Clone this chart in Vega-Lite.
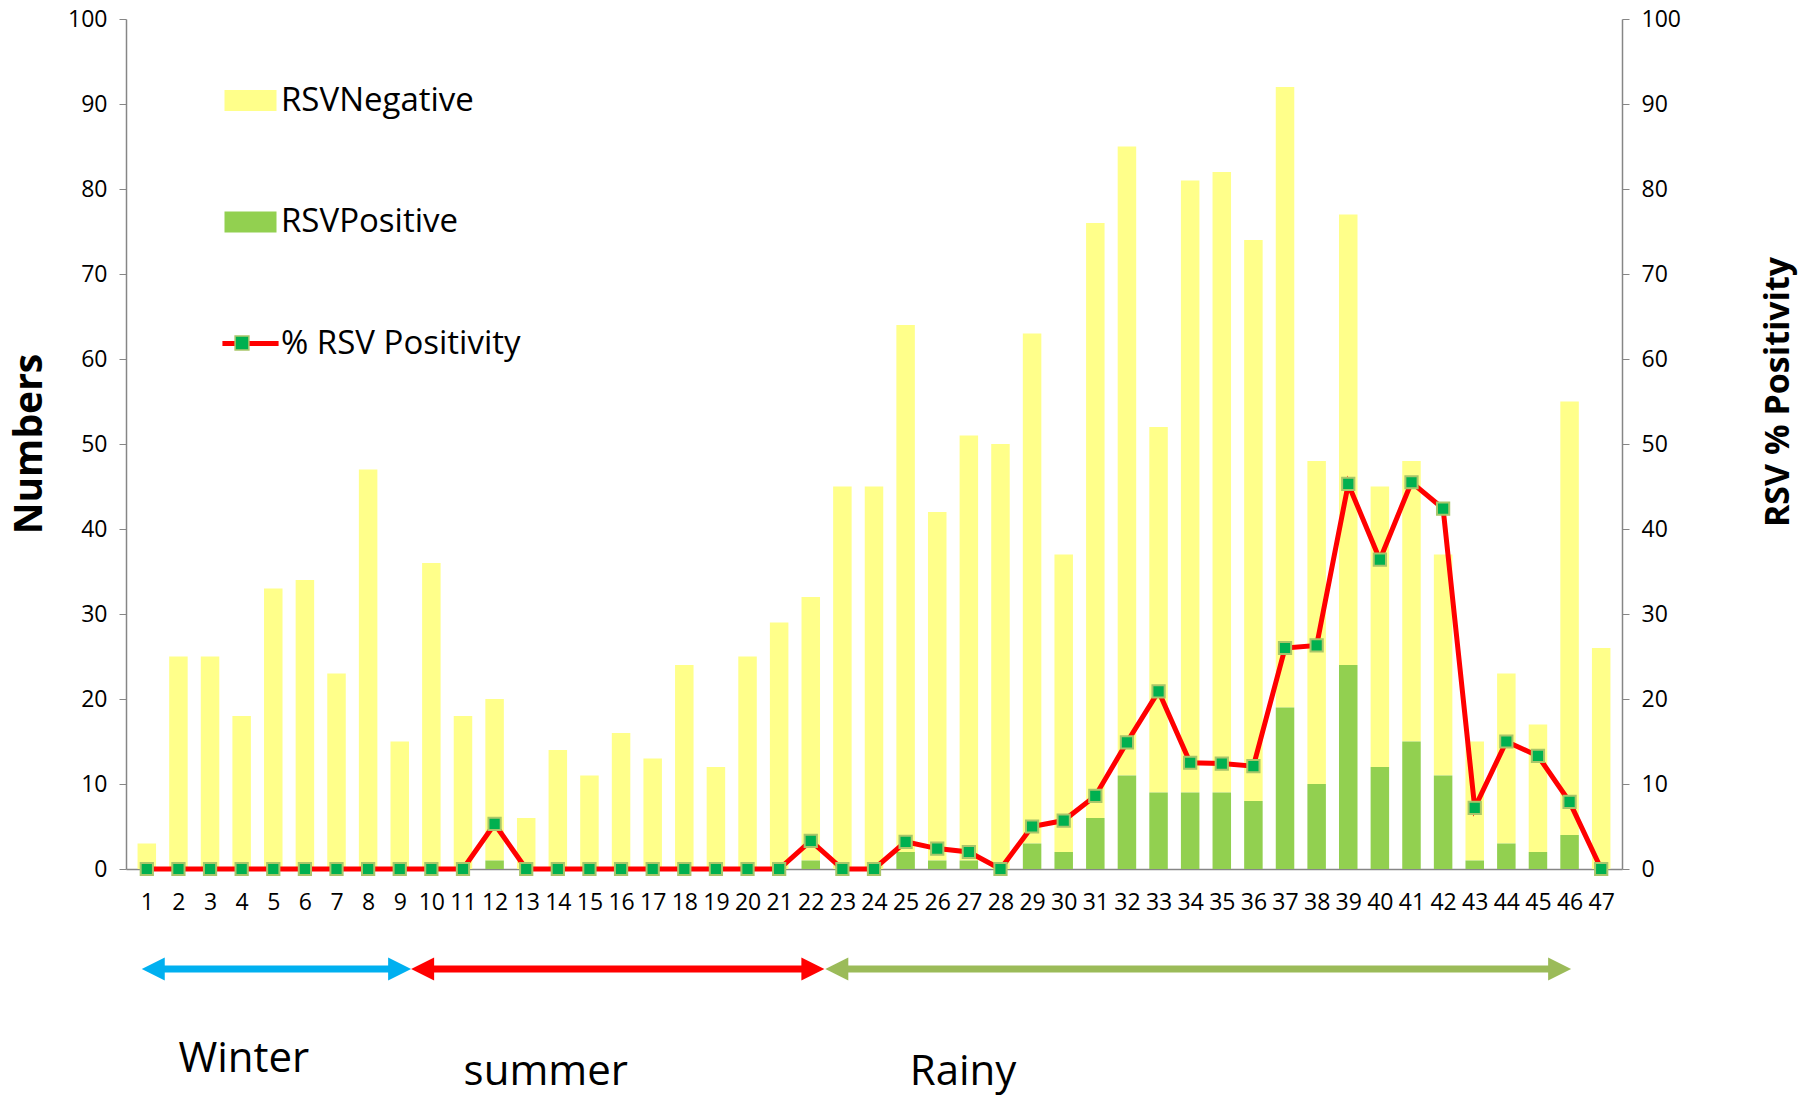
{
  "$schema": "https://vega.github.io/schema/vega-lite/v6.json",
  "width": 1496,
  "height": 850,
  "autosize": "none",
  "padding": {"left": 126, "top": 19, "right": 195, "bottom": 229},
  "background": "white",
  "config": {
    "view": {"stroke": null},
    "font": "Open Sans",
    "axis": {"grid": false, "domainColor": "#868686", "tickColor": "#868686", "domainWidth": 1.5, "labelFont": "Open Sans", "labelColor": "#000000", "labelFontSize": 23, "labelFlush": false, "labelOverlap": false, "titleFont": "Open Sans", "titleColor": "#000000", "titleFontWeight": "bold"},
    "axisX": {"labelOverlap": false, "labelSeparation": 0},
    "axisQuantitative": {"labelOverlap": false}
  },
  "datasets": {
    "weeks": [
      {"week": 1, "RSVPositive": 0, "RSVNegative": 3, "pct": 0},
      {"week": 2, "RSVPositive": 0, "RSVNegative": 25, "pct": 0},
      {"week": 3, "RSVPositive": 0, "RSVNegative": 25, "pct": 0},
      {"week": 4, "RSVPositive": 0, "RSVNegative": 18, "pct": 0},
      {"week": 5, "RSVPositive": 0, "RSVNegative": 33, "pct": 0},
      {"week": 6, "RSVPositive": 0, "RSVNegative": 34, "pct": 0},
      {"week": 7, "RSVPositive": 0, "RSVNegative": 23, "pct": 0},
      {"week": 8, "RSVPositive": 0, "RSVNegative": 47, "pct": 0},
      {"week": 9, "RSVPositive": 0, "RSVNegative": 15, "pct": 0},
      {"week": 10, "RSVPositive": 0, "RSVNegative": 36, "pct": 0},
      {"week": 11, "RSVPositive": 0, "RSVNegative": 18, "pct": 0},
      {"week": 12, "RSVPositive": 1, "RSVNegative": 19, "pct": 5.3},
      {"week": 13, "RSVPositive": 0, "RSVNegative": 6, "pct": 0},
      {"week": 14, "RSVPositive": 0, "RSVNegative": 14, "pct": 0},
      {"week": 15, "RSVPositive": 0, "RSVNegative": 11, "pct": 0},
      {"week": 16, "RSVPositive": 0, "RSVNegative": 16, "pct": 0},
      {"week": 17, "RSVPositive": 0, "RSVNegative": 13, "pct": 0},
      {"week": 18, "RSVPositive": 0, "RSVNegative": 24, "pct": 0},
      {"week": 19, "RSVPositive": 0, "RSVNegative": 12, "pct": 0},
      {"week": 20, "RSVPositive": 0, "RSVNegative": 25, "pct": 0},
      {"week": 21, "RSVPositive": 0, "RSVNegative": 29, "pct": 0},
      {"week": 22, "RSVPositive": 1, "RSVNegative": 31, "pct": 3.3},
      {"week": 23, "RSVPositive": 0, "RSVNegative": 45, "pct": 0},
      {"week": 24, "RSVPositive": 0, "RSVNegative": 45, "pct": 0},
      {"week": 25, "RSVPositive": 2, "RSVNegative": 62, "pct": 3.2},
      {"week": 26, "RSVPositive": 1, "RSVNegative": 41, "pct": 2.4},
      {"week": 27, "RSVPositive": 1, "RSVNegative": 50, "pct": 2.0},
      {"week": 28, "RSVPositive": 0, "RSVNegative": 50, "pct": 0},
      {"week": 29, "RSVPositive": 3, "RSVNegative": 60, "pct": 5.0},
      {"week": 30, "RSVPositive": 2, "RSVNegative": 35, "pct": 5.7},
      {"week": 31, "RSVPositive": 6, "RSVNegative": 70, "pct": 8.6},
      {"week": 32, "RSVPositive": 11, "RSVNegative": 74, "pct": 14.9},
      {"week": 33, "RSVPositive": 9, "RSVNegative": 43, "pct": 20.9},
      {"week": 34, "RSVPositive": 9, "RSVNegative": 72, "pct": 12.5},
      {"week": 35, "RSVPositive": 9, "RSVNegative": 73, "pct": 12.4},
      {"week": 36, "RSVPositive": 8, "RSVNegative": 66, "pct": 12.1},
      {"week": 37, "RSVPositive": 19, "RSVNegative": 73, "pct": 26.0},
      {"week": 38, "RSVPositive": 10, "RSVNegative": 38, "pct": 26.3},
      {"week": 39, "RSVPositive": 24, "RSVNegative": 53, "pct": 45.3},
      {"week": 40, "RSVPositive": 12, "RSVNegative": 33, "pct": 36.4},
      {"week": 41, "RSVPositive": 15, "RSVNegative": 33, "pct": 45.5},
      {"week": 42, "RSVPositive": 11, "RSVNegative": 26, "pct": 42.4},
      {"week": 43, "RSVPositive": 1, "RSVNegative": 14, "pct": 7.2},
      {"week": 44, "RSVPositive": 3, "RSVNegative": 20, "pct": 15.0},
      {"week": 45, "RSVPositive": 2, "RSVNegative": 15, "pct": 13.3},
      {"week": 46, "RSVPositive": 4, "RSVNegative": 51, "pct": 7.9},
      {"week": 47, "RSVPositive": 0, "RSVNegative": 26, "pct": 0}
    ],
    "seasons": [
      {"season": "Winter", "from": 0.84, "to": 9.36, "lx": 2.0},
      {"season": "summer", "from": 9.36, "to": 22.43, "lx": 11.02},
      {"season": "Rainy", "from": 22.46, "to": 46.05, "lx": 25.13}
    ]
  },
  "layer": [
    {
      "data": {"name": "weeks"},
      "transform": [{"fold": ["RSVNegative", "RSVPositive"], "as": ["series", "count"]}],
      "mark": {"type": "bar", "width": 18.5},
      "encoding": {
        "x": {"field": "week", "type": "quantitative", "title": null,
              "scale": {"domain": [0.5, 47.5], "nice": false, "zero": false},
              "axis": {"values": [1,2,3,4,5,6,7,8,9,10,11,12,13,14,15,16,17,18,19,20,21,22,23,24,25,26,27,28,29,30,31,32,33,34,35,36,37,38,39,40,41,42,43,44,45,46,47], "format": "d", "ticks": false, "labelPadding": 22, "labelOverlap": false, "labelBound": false, "labelSeparation": 0, "title": null}},
        "y": {"field": "count", "type": "quantitative", "stack": "zero",
              "scale": {"domain": [0, 100], "nice": false},
              "axis": {"orient": "left", "values": [0,10,20,30,40,50,60,70,80,90,100], "tickSize": 7, "labelPadding": 12,
                       "title": "Numbers", "titleFontSize": 39, "titleAngle": 270, "titleBaseline": "alphabetic", "titleAlign": "center", "titleX": -85, "titleY": 424.5}},
        "color": {"field": "series", "type": "nominal",
                  "scale": {"domain": ["RSVNegative", "RSVPositive", "% RSV Positivity"], "range": ["#FFFF8A", "#92D050", "#FF0000"]},
                  "legend": {"orient": "none", "legendX": 108, "legendY": 65, "direction": "vertical", "title": null, "padding": 0,
                             "labelFont": "Open Sans", "labelFontSize": 33, "labelColor": "#000000", "labelOffset": 14, "labelLimit": 500,
                             "rowPadding": 87.5, "symbolType": "M-1,-0.4H1V0.4H-1Z", "symbolSize": 2704,
                             "encode": {"symbols": {"update": {
                               "shape": {"signal": "datum.value === '% RSV Positivity' ? 'M-1.08,0H1.08' : 'M-1,-0.4H1V0.4H-1Z'"},
                               "fill": {"signal": "datum.value === '% RSV Positivity' ? 'transparent' : scale('color', datum.value)"},
                               "stroke": {"signal": "datum.value === '% RSV Positivity' ? '#FF0000' : 'transparent'"},
                               "strokeWidth": {"signal": "datum.value === '% RSV Positivity' ? 5 : 0"},
                               "opacity": {"value": 1}
                             }}}}},
        "order": {"field": "series", "sort": "descending"}
      }
    },
    {
      "data": {"name": "weeks"},
      "mark": {"type": "line", "strokeWidth": 5},
      "encoding": {
        "x": {"field": "week", "type": "quantitative", "title": null, "scale": {"domain": [0.5, 47.5], "nice": false, "zero": false},
              "axis": {"values": [1,2,3,4,5,6,7,8,9,10,11,12,13,14,15,16,17,18,19,20,21,22,23,24,25,26,27,28,29,30,31,32,33,34,35,36,37,38,39,40,41,42,43,44,45,46,47], "format": "d", "ticks": false, "labelPadding": 22, "labelOverlap": false, "labelBound": false, "labelSeparation": 0, "title": null}},
        "y": {"field": "pct", "type": "quantitative",
              "scale": {"domain": [0, 100], "nice": false},
              "axis": {"orient": "right", "values": [0,10,20,30,40,50,60,70,80,90,100], "tickSize": 7, "labelPadding": 12,
                       "title": "RSV  % Positivity", "titleFontSize": 34, "titleAngle": 270, "titleBaseline": "alphabetic", "titleAlign": "center", "titleX": 166, "titleY": 372.5}},
        "color": {"datum": "% RSV Positivity"}
      }
    },
    {
      "data": {"name": "weeks"},
      "mark": {"type": "point", "filled": true, "size": 150, "fill": "#00B050", "stroke": "#A9C66A", "strokeWidth": 2, "opacity": 1},
      "encoding": {
        "x": {"field": "week", "type": "quantitative", "title": null, "scale": {"domain": [0.5, 47.5], "nice": false, "zero": false},
              "axis": {"values": [1,2,3,4,5,6,7,8,9,10,11,12,13,14,15,16,17,18,19,20,21,22,23,24,25,26,27,28,29,30,31,32,33,34,35,36,37,38,39,40,41,42,43,44,45,46,47], "format": "d", "ticks": false, "labelPadding": 22, "labelOverlap": false, "labelBound": false, "labelSeparation": 0, "title": null}},
        "y": {"field": "pct", "type": "quantitative", "scale": {"domain": [0, 100], "nice": false}, "axis": null},
        "shape": {"datum": "% RSV Positivity", "type": "nominal",
                  "scale": {"domain": ["% RSV Positivity"], "range": ["square"]},
                  "legend": {"orient": "none", "legendX": 108, "legendY": 316, "title": null, "padding": 0,
                             "labelExpr": "''", "labelFontSize": 1, "labelOffset": 0, "symbolSize": 190,
                             "encode": {"symbols": {"update": {
                               "fill": {"value": "#00B050"},
                               "stroke": {"value": "#A9C66A"},
                               "strokeWidth": {"value": 2},
                               "opacity": {"value": 1}
                             }}}}}
      }
    },
    {
      "data": {"name": "seasons"},
      "mark": {"type": "rule", "strokeWidth": 7, "xOffset": 10, "x2Offset": -10},
      "encoding": {
        "x": {"field": "from", "type": "quantitative", "title": null, "scale": {"domain": [0.5, 47.5], "nice": false, "zero": false},
              "axis": {"values": [1,2,3,4,5,6,7,8,9,10,11,12,13,14,15,16,17,18,19,20,21,22,23,24,25,26,27,28,29,30,31,32,33,34,35,36,37,38,39,40,41,42,43,44,45,46,47], "format": "d", "ticks": false, "labelPadding": 22, "labelOverlap": false, "labelBound": false, "labelSeparation": 0, "title": null}},
        "x2": {"field": "to"},
        "y": {"datum": -11.76, "type": "quantitative", "scale": {"domain": [0, 100], "nice": false}, "axis": null},
        "stroke": {"field": "season", "type": "nominal", "scale": {"domain": ["Winter", "summer", "Rainy"], "range": ["#00B0F0", "#FF0000", "#9BBB59"]}, "legend": null}
      }
    },
    {
      "data": {"name": "seasons"},
      "transform": [{"fold": ["from", "to"], "as": ["end", "pos"]}],
      "mark": {"type": "point", "filled": true, "size": 529, "opacity": 1, "strokeWidth": 0},
      "encoding": {
        "x": {"field": "pos", "type": "quantitative", "title": null, "scale": {"domain": [0.5, 47.5], "nice": false, "zero": false},
              "axis": {"values": [1,2,3,4,5,6,7,8,9,10,11,12,13,14,15,16,17,18,19,20,21,22,23,24,25,26,27,28,29,30,31,32,33,34,35,36,37,38,39,40,41,42,43,44,45,46,47], "format": "d", "ticks": false, "labelPadding": 22, "labelOverlap": false, "labelBound": false, "labelSeparation": 0, "title": null}},
        "y": {"datum": -11.76, "type": "quantitative", "scale": {"domain": [0, 100], "nice": false}, "axis": null},
        "shape": {"field": "end", "type": "nominal", "scale": {"domain": ["from", "to"], "range": ["M0,0L2,-1L2,1Z", "M0,0L-2,-1L-2,1Z"]}, "legend": null},
        "fill": {"field": "season", "type": "nominal", "scale": {"domain": ["Winter", "summer", "Rainy"], "range": ["#00B0F0", "#FF0000", "#9BBB59"]}, "legend": null}
      }
    },
    {
      "data": {"name": "seasons"},
      "transform": [{"filter": "datum.season === 'Winter'"}],
      "mark": {"type": "text", "font": "Open Sans", "fontSize": 42, "align": "left", "baseline": "alphabetic", "color": "#000000"},
      "encoding": {
        "x": {"field": "lx", "type": "quantitative", "title": null, "scale": {"domain": [0.5, 47.5], "nice": false, "zero": false},
              "axis": {"values": [1,2,3,4,5,6,7,8,9,10,11,12,13,14,15,16,17,18,19,20,21,22,23,24,25,26,27,28,29,30,31,32,33,34,35,36,37,38,39,40,41,42,43,44,45,46,47], "format": "d", "ticks": false, "labelPadding": 22, "labelOverlap": false, "labelBound": false, "labelSeparation": 0, "title": null}},
        "y": {"datum": -23.9, "type": "quantitative", "scale": {"domain": [0, 100], "nice": false}, "axis": null},
        "text": {"field": "season", "type": "nominal"}
      }
    },
    {
      "data": {"name": "seasons"},
      "transform": [{"filter": "datum.season !== 'Winter'"}],
      "mark": {"type": "text", "font": "Open Sans", "fontSize": 42, "align": "left", "baseline": "alphabetic", "color": "#000000"},
      "encoding": {
        "x": {"field": "lx", "type": "quantitative", "title": null, "scale": {"domain": [0.5, 47.5], "nice": false, "zero": false},
              "axis": {"values": [1,2,3,4,5,6,7,8,9,10,11,12,13,14,15,16,17,18,19,20,21,22,23,24,25,26,27,28,29,30,31,32,33,34,35,36,37,38,39,40,41,42,43,44,45,46,47], "format": "d", "ticks": false, "labelPadding": 22, "labelOverlap": false, "labelBound": false, "labelSeparation": 0, "title": null}},
        "y": {"datum": -25.4, "type": "quantitative", "scale": {"domain": [0, 100], "nice": false}, "axis": null},
        "text": {"field": "season", "type": "nominal"}
      }
    }
  ],
  "resolve": {"scale": {"y": "independent", "shape": "independent"}, "axis": {"y": "independent"}, "legend": {"shape": "independent"}}
}
